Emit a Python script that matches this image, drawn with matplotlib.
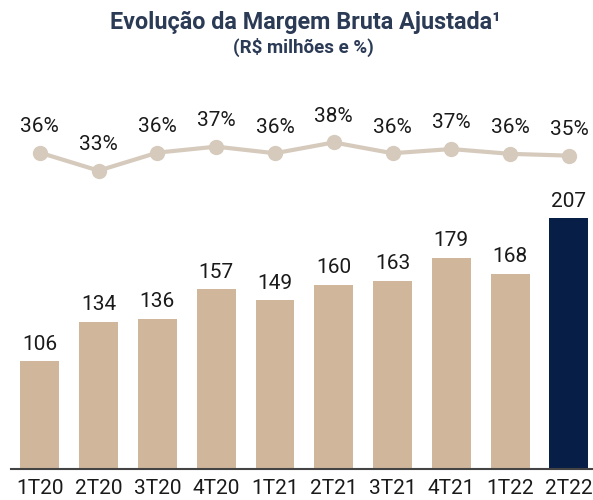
import matplotlib
matplotlib.use("Agg")
import matplotlib.pyplot as plt

categories = ["1T20", "2T20", "3T20", "4T20", "1T21", "2T21", "3T21", "4T21", "1T22", "2T22"]
gross_margin = [106, 134, 136, 157, 149, 160, 163, 179, 168, 207]
margin_pct = [35.9, 32.9, 35.9, 36.9, 35.8, 37.6, 35.8, 36.5, 35.7, 35.4]
margin_labels = ["36%", "33%", "36%", "37%", "36%", "38%", "36%", "37%", "36%", "35%"]

plt.rcParams['font.family'] = ['Roboto', 'DejaVu Sans']

W, H = 593, 500
fig = plt.figure(figsize=(W / 100, H / 100), dpi=100)

left, right = 11 / W, 593 / W
bottom, top = (H - 469) / H, (H - 80) / H
ax = fig.add_axes([left, bottom, right - left, top - bottom])
ax2 = fig.add_axes([left, bottom, right - left, top - bottom], sharex=ax)

x = list(range(len(categories)))
colors = ["#d0b79b"] * (len(categories) - 1) + ["#071e46"]
ax.bar(x, gross_margin, width=0.66, color=colors, zorder=2)
for xi, v in zip(x, gross_margin):
    ax.annotate(str(v), (xi, v), xytext=(0, 5.5), textcoords="offset points",
                ha="center", va="bottom", fontsize=15, color="#1a1a1a")

ax.set_xlim(-0.49, 9.41)
ax.set_ylim(30, 304.7)
ax.set_xticks(x)
ax.set_xticklabels(categories, fontsize=15, color="#1a1a1a")
ax.tick_params(axis="x", length=0, pad=7)
ax.set_yticks([])
for s in ["top", "right", "left"]:
    ax.spines[s].set_visible(False)
ax.spines["bottom"].set_color("#444444")
ax.spines["bottom"].set_linewidth(1.5)

ax2.plot(x, margin_pct, color="#d6cabd", lw=3, marker="o", markersize=10, zorder=3)
for xi, v, lab in zip(x, margin_pct, margin_labels):
    ax2.annotate(lab, (xi, v), xytext=(0, 12), textcoords="offset points",
                 ha="center", va="bottom", fontsize=15, color="#1a1a1a")
ax2.set_ylim(-16.8, 48)
ax2.axis("off")
ax2.patch.set_visible(False)

fig.text(305 / W, 1 - 22 / H, "Evolução da Margem Bruta Ajustada¹", ha="center", va="center",
         fontsize=16.8, fontweight="bold", color="#2b3a55")
fig.text(303 / W, 1 - 47 / H, "(R$ milhões e %)", ha="center", va="center",
         fontsize=13.5, fontweight="bold", color="#2b3a55")

fig.savefig("out.png", dpi=100)
